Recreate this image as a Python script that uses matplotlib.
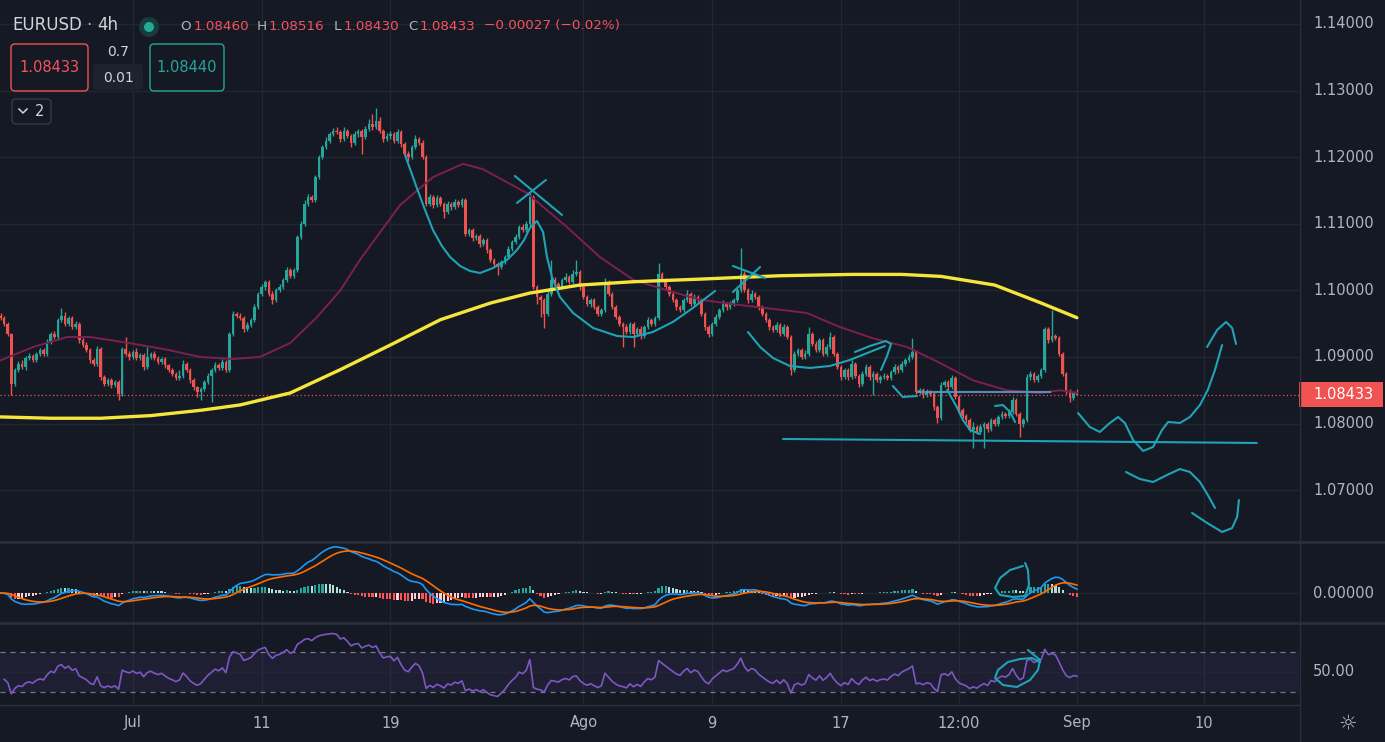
import numpy as np
import matplotlib
matplotlib.use("Agg")
import matplotlib.pyplot as plt
from matplotlib.patches import FancyBboxPatch, Rectangle, Circle
from matplotlib.transforms import blended_transform_factory as blend

BG = "#151924"
GRID = "#22262f"
SEP = "#2a2e39"
TXT = "#b2b5be"
UP = "#26a69a"
DOWN = "#ef5350"
DRAW = "#1fa3b6"

# EURUSD 4h closes (one per candle)
closes = [
    1.0958, 1.0950, 1.0935, 1.0860, 1.0880, 1.0890, 1.0885, 1.0898, 1.0902, 1.0895,
    1.0905, 1.0910, 1.0905, 1.0922, 1.0935, 1.0930, 1.0955, 1.0962, 1.0950, 1.0958,
    1.0945, 1.0950, 1.0925, 1.0918, 1.0910, 1.0895, 1.0890, 1.0912, 1.0870, 1.0860,
    1.0865, 1.0858, 1.0862, 1.0845, 1.0912, 1.0905, 1.0900, 1.0908, 1.0898, 1.0903,
    1.0885, 1.0900, 1.0905, 1.0898, 1.0893, 1.0897, 1.0888, 1.0880, 1.0875, 1.0868,
    1.0872, 1.0890, 1.0880, 1.0865, 1.0855, 1.0848, 1.0852, 1.0862, 1.0872, 1.0880,
    1.0888, 1.0884, 1.0892, 1.0880, 1.0935, 1.0965, 1.0962, 1.0958, 1.0942, 1.0948,
    1.0955, 1.0975, 1.0995, 1.1005, 1.1012, 1.0995, 1.0985, 1.1000, 1.1005, 1.1015,
    1.1030, 1.1022, 1.1030, 1.1080, 1.1100, 1.1130, 1.1140, 1.1135, 1.1170, 1.1200,
    1.1215, 1.1225, 1.1235, 1.1240, 1.1238, 1.1228, 1.1240, 1.1232, 1.1222, 1.1235,
    1.1240, 1.1230, 1.1242, 1.1250, 1.1245, 1.1255, 1.1240, 1.1228, 1.1232, 1.1235,
    1.1225, 1.1238, 1.1220, 1.1205, 1.1200, 1.1215, 1.1228, 1.1222, 1.1200, 1.1130,
    1.1140, 1.1128, 1.1138, 1.1130, 1.1118, 1.1130, 1.1125, 1.1133, 1.1128, 1.1135,
    1.1085, 1.1090, 1.1078, 1.1082, 1.1070, 1.1075, 1.1060, 1.1045, 1.1040, 1.1035,
    1.1042, 1.1050, 1.1062, 1.1072, 1.1080, 1.1095, 1.1090, 1.1100, 1.1140, 1.1005,
    1.0990, 1.0985, 1.0965, 1.0995, 1.1015, 1.1010, 1.1005, 1.1015, 1.1020, 1.1012,
    1.1025, 1.1028, 1.1005, 1.0990, 1.0980, 1.0985, 1.0975, 1.0965, 1.0970, 1.1012,
    1.0995, 1.0975, 1.0960, 1.0950, 1.0945, 1.0938, 1.0950, 1.0935, 1.0942, 1.0932,
    1.0945, 1.0955, 1.0950, 1.0958, 1.1025, 1.1015, 1.1005, 1.0995, 1.0985, 1.0975,
    1.0970, 1.0985, 1.0995, 1.0980, 1.0990, 1.0985, 1.0965, 1.0945, 1.0935, 1.0950,
    1.0960, 1.0970, 1.0980, 1.0975, 1.0980, 1.0985, 1.1000, 1.1025, 1.1000, 1.0985,
    1.0995, 1.0990, 1.0975, 1.0965, 1.0955, 1.0945, 1.0940, 1.0948, 1.0935, 1.0945,
    1.0930, 1.0880, 1.0905, 1.0910, 1.0900, 1.0905, 1.0935, 1.0920, 1.0910, 1.0925,
    1.0905, 1.0915, 1.0930, 1.0905, 1.0885, 1.0870, 1.0880, 1.0870, 1.0890, 1.0872,
    1.0860, 1.0875, 1.0885, 1.0870, 1.0875, 1.0865, 1.0870, 1.0872, 1.0868, 1.0878,
    1.0885, 1.0880, 1.0890, 1.0895, 1.0900, 1.0908, 1.0848, 1.0850, 1.0843, 1.0848,
    1.0845, 1.0825, 1.0808, 1.0858, 1.0862, 1.0855, 1.0868, 1.0840, 1.0820, 1.0812,
    1.0805, 1.0790, 1.0795, 1.0788, 1.0795, 1.0800, 1.0792, 1.0805, 1.0800, 1.0810,
    1.0815, 1.0812, 1.0818, 1.0835, 1.0815, 1.0800, 1.0805, 1.0870, 1.0875, 1.0865,
    1.0872, 1.0880, 1.0942, 1.0925, 1.0932, 1.0928, 1.0905, 1.0875, 1.0848, 1.0838,
    1.0846, 1.08433,
]
first_open = 1.0962

# wick length beyond the body, in pips
wick_up = [
    4, 3, 2, 1, 3, 4, 5, 3, 4, 3,   3, 4, 3, 5, 3, 4, 3, 12, 5, 3,
    3, 4, 2, 3, 4, 3, 3, 5, 3, 3,   4, 3, 3, 3, 3, 18, 4, 3, 5, 3,
    3, 15, 3, 4, 3, 3, 3, 2, 3, 3,  8, 6, 3, 3, 3, 2, 3, 3, 4, 3,
    4, 3, 5, 3, 3, 4, 3, 4, 3, 5,   3, 5, 3, 4, 3, 3, 4, 3, 4, 3,
    5, 3, 4, 3, 4, 5, 4, 3, 3, 4,   3, 5, 3, 4, 6, 3, 5, 3, 3, 4,
    3, 3, 5, 8, 15, 19, 6, 3, 4, 5, 3, 4, 3, 3, 4, 3, 5, 3, 4, 3,
    4, 3, 5, 3, 3, 4, 3, 4, 3, 3,   3, 4, 3, 3, 3, 4, 3, 3, 3, 3,
    3, 3, 4, 3, 4, 3, 4, 4, 6, 3,   3, 3, 3, 5, 31, 5, 3, 4, 6, 3,
    5, 18, 3, 3, 3, 4, 3, 3, 3, 7,  3, 3, 3, 3, 3, 4, 3, 3, 3, 4,
    3, 5, 3, 4, 16, 3, 4, 3, 3, 3,  3, 4, 5, 3, 4, 3, 3, 3, 3, 3,
    4, 3, 5, 3, 4, 3, 4, 38, 4, 3,  5, 3, 3, 3, 3, 3, 3, 5, 3, 4,
    3, 3, 4, 3, 3, 5, 10, 3, 4, 3,  3, 5, 8, 3, 3, 3, 4, 3, 6, 3,
    3, 4, 4, 3, 4, 3, 3, 4, 3, 3,   4, 3, 4, 3, 4, 21, 3, 4, 3, 4,
    3, 3, 3, 4, 3, 4, 5, 3, 3, 3,   3, 4, 8, 3, 4, 3, 3, 4, 3, 3,
    4, 3, 4, 5, 3, 3, 3, 5, 4, 3,   3, 4, 3, 3, 39, 3, 3, 3, 3, 4,
    3, 6,
]
wick_dn = [
    3, 3, 4, 17, 3, 3, 3, 4, 3, 3,  3, 3, 4, 3, 3, 3, 4, 3, 3, 4,
    3, 3, 4, 3, 3, 4, 3, 3, 5, 4,   3, 4, 3, 10, 3, 3, 4, 3, 3, 3,
    4, 3, 3, 3, 3, 3, 4, 3, 3, 3,   3, 3, 3, 4, 5, 8, 12, 3, 3, 39,
    3, 4, 3, 3, 3, 3, 4, 3, 5, 3,   3, 3, 3, 3, 4, 3, 6, 3, 3, 3,
    3, 4, 3, 3, 3, 3, 4, 3, 3, 3,   3, 3, 4, 3, 3, 5, 3, 3, 6, 3,
    4, 25, 3, 3, 4, 3, 3, 5, 3, 4,  3, 3, 4, 3, 6, 3, 3, 4, 3, 4,
    3, 4, 3, 3, 10, 3, 4, 3, 3, 3,  4, 3, 4, 3, 5, 3, 4, 3, 4, 12,
    3, 3, 3, 3, 3, 3, 3, 3, 3, 3,   10, 25, 21, 3, 3, 3, 4, 3, 3, 3,
    3, 3, 4, 3, 3, 5, 3, 4, 3, 3,   3, 3, 3, 3, 30, 3, 4, 20, 3, 5,
    3, 3, 3, 3, 3, 3, 3, 4, 3, 5,   3, 3, 3, 4, 3, 3, 3, 4, 5, 3,
    3, 3, 3, 4, 3, 3, 3, 3, 3, 4,   3, 3, 4, 3, 3, 4, 3, 3, 4, 3,
    3, 7, 3, 4, 3, 3, 3, 4, 3, 3,   4, 3, 3, 3, 3, 5, 3, 4, 3, 3,
    5, 3, 3, 4, 27, 3, 4, 3, 3, 3,  3, 4, 3, 3, 3, 3, 4, 3, 5, 3,
    3, 4, 7, 3, 3, 4, 3, 3, 4, 3,   4, 3, 26, 3, 3, 32, 4, 3, 3, 3,
    3, 4, 3, 3, 4, 20, 5, 3, 4, 3,  3, 3, 3, 4, 3, 3, 3, 4, 3, 5,
    3, 0,
]

# moving averages read at a few candles
slow_ma_bar = [0, 14, 28, 42, 56, 67, 81, 95, 109, 123, 137, 148, 162, 177, 196, 218, 238, 252,
               263, 278, 291, 301]
slow_ma = [1.0810, 1.0808, 1.0808, 1.0812, 1.0820, 1.0828, 1.0846, 1.0881, 1.0918, 1.0956, 1.0981,
           1.0996, 1.1008, 1.1013, 1.1017, 1.1022, 1.1024, 1.1024, 1.1021, 1.1008, 1.0981, 1.0959]
fast_ma_bar = [0, 9.1, 18.6, 25, 37, 46.5, 55.8, 65, 72.5, 81, 88.5, 95, 100.5, 111.7, 120.9, 129.3,
               134.9, 147.2, 158.4, 167.6, 176.9, 186.4, 195.6, 206.8, 218, 225.5, 234.7, 244, 253.5,
               262.7, 271.9, 281.4, 290.7, 296.3, 301]
fast_ma = [1.0895, 1.0915, 1.0930, 1.0930, 1.0920, 1.0911, 1.0900, 1.0897, 1.0900, 1.0921, 1.0960,
           1.1000, 1.1046, 1.1128, 1.1170, 1.1190, 1.1182, 1.1146, 1.1095, 1.1050, 1.1016, 1.1000,
           1.0986, 1.0978, 1.0971, 1.0966, 1.0945, 1.0928, 1.0915, 1.0891, 1.0865, 1.0850, 1.0846,
           1.0850, 1.0846]

date_labels = ["Jul", "11", "19", "Ago", "9", "17", "12:00", "Sep", "10"]
date_bars = [37, 73, 109, 163, 199, 235, 268, 301, 336.5]
price_levels = [1.07, 1.08, 1.09, 1.10, 1.11, 1.12, 1.13, 1.14]
last_price = 1.08433

# hand drawn annotations (bar index, price)
swing_bar = [113.1, 114.8, 116.4, 118.7, 120.9, 123.4, 125.7, 128.5, 131.3, 134.1, 137.7, 141.6, 144.4,
             146.4, 148.0, 150.0, 151.7, 152.8, 154.2, 156.4, 160.1, 165.7, 172.4, 176.9, 182.4, 188.0,
             193.6, 199.8]
swing_px = [1.12033, 1.11778, 1.11538, 1.11207, 1.10907, 1.10667, 1.10501, 1.10366, 1.10291, 1.10261,
            1.10336, 1.10456, 1.10607, 1.10757, 1.10937, 1.11042, 1.10877, 1.10501, 1.10201, 1.09901,
            1.09661, 1.09435, 1.09315, 1.09300, 1.09375, 1.09526, 1.09736, 1.09991]
cross_strokes = [
    ([143.8, 157.0], [1.11718, 1.11132]),
    ([144.4, 152.5], [1.11312, 1.11658]),
    ([204.8, 213.8], [1.10366, 1.10186]),
    ([204.8, 212.4], [1.09976, 1.10351]),
]
u_bar = [209.0, 212.4, 216.0, 220.7, 226.3, 231.9, 237.5, 243.1, 247.3]
u_px = [1.09375, 1.09150, 1.08985, 1.08865, 1.08835, 1.08865, 1.08955, 1.09075, 1.09165]
swoosh_bar = [238.9, 243.1, 247.6, 249.0, 247.9, 246.2]
swoosh_px = [1.09075, 1.09165, 1.09240, 1.09195, 1.09015, 1.08805]
hook_bar = [249.5, 252.3, 256.3]
hook_px = [1.08565, 1.08399, 1.08414]
neck_bar = [256.6, 293.5]
neck_px = [1.08474, 1.08474]
drop_bar = [264.7, 267.4, 269.1, 271.1, 273.9]
drop_px = [1.08505, 1.08249, 1.08054, 1.07904, 1.07844]
arc_bar = [278.1, 280.3, 282.3, 283.7]
arc_px = [1.08264, 1.08279, 1.08174, 1.08024]
support_bar = [218.8, 351.3]
support_px = [1.07769, 1.07709]
fut_a_bar = [301.3, 304.6, 307.4, 310.2, 312.5, 314.4, 316.7, 319.5, 322.3, 324.8, 326.5, 329.8, 332.6,
             335.4, 337.6, 339.6, 341.6]
fut_a_px = [1.08159, 1.07949, 1.07874, 1.08009, 1.08099, 1.08009, 1.07754, 1.07589, 1.07649, 1.07904,
            1.08024, 1.08009, 1.08099, 1.08279, 1.08505, 1.08805, 1.09180]
fut_b_bar = [337.4, 340.2, 342.7, 344.4, 345.5]
fut_b_px = [1.09150, 1.09405, 1.09526, 1.09436, 1.09195]
fut_c_bar = [314.7, 318.6, 322.3, 326.2, 329.8, 332.6, 335.4, 337.6, 339.6]
fut_c_px = [1.07273, 1.07168, 1.07123, 1.07228, 1.07318, 1.07273, 1.07123, 1.06928, 1.06733]
fut_d_bar = [333.2, 337.4, 341.6, 344.4, 345.8, 346.3]
fut_d_px = [1.06658, 1.06508, 1.06372, 1.06432, 1.06598, 1.06853]
macd_loop_bar = [285.9, 282.3, 279.5, 278.1, 279.5, 283.1, 286.5, 287.6, 287.3, 286.5]
macd_loop = [0.00432, 0.00368, 0.0024, 0.0008, -0.00032, -0.00064, -0.00048, 0.00128, 0.00368, 0.0048]
rsi_loop_bar = [287.3, 290.7, 290.1, 287.9, 284.2, 280.3, 278.1, 278.9, 281.7, 285.1, 288.4, 290.7]
rsi_loop = [72, 62, 52, 42, 35, 37, 44, 52, 60, 63, 64, 60]

# ---- derived series ----
c = np.array(closes)
o = np.r_[first_open, c[:-1]]
hi = np.maximum(o, c) + np.array(wick_up) * 1e-4
lo = np.minimum(o, c) - np.array(wick_dn) * 1e-4
x = np.arange(len(c))
cols = np.where(c >= o, UP, DOWN)


def ema(v, n):
    a = 2.0 / (n + 1)
    out = np.empty(len(v))
    out[0] = v[0]
    for i in range(1, len(v)):
        out[i] = a * v[i] + (1 - a) * out[i - 1]
    return out


macd = ema(c, 12) - ema(c, 26)
signal = ema(macd, 9)
hist = macd - signal
hcols = []
for i, h in enumerate(hist):
    prev = hist[i - 1] if i else h
    if h >= 0:
        hcols.append("#26a69a" if h >= prev else "#b2dfdb")
    else:
        hcols.append("#ffcdd2" if h >= prev else "#ff5252")

d = np.diff(c)
g = np.clip(d, 0, None)
l = np.clip(-d, 0, None)
ag, al = g[:14].mean(), l[:14].mean()
rsi = []
for gi, li in zip(g, l):
    ag = (ag * 13 + gi) / 14
    al = (al * 13 + li) / 14
    rsi.append(100 - 100 / (1 + ag / al) if al > 0 else 100)

# ---- figure ----
W, H = 1385, 742
fig = plt.figure(figsize=(W / 100, H / 100), dpi=100, facecolor=BG)


def rect(x0, y0, x1, y1):
    return [x0 / W, 1 - y1 / H, (x1 - x0) / W, (y1 - y0) / H]


ax_p = fig.add_axes(rect(0, 0, 1299, 541))
ax_m = fig.add_axes(rect(0, 543, 1299, 622))
ax_r = fig.add_axes(rect(0, 624, 1299, 704))
for a in (ax_p, ax_m, ax_r):
    a.set_facecolor(BG)
    a.set_xlim(-0.17, 363.1)
    a.set_xticks([])
    a.set_yticks([])
    for s in a.spines.values():
        s.set_visible(False)
    for b in date_bars:
        a.axvline(b, color=GRID, lw=1, zorder=0)

# price panel
ax_p.set_ylim(1.06237, 1.14360)
for lv in price_levels:
    ax_p.axhline(lv, color=GRID, lw=1, zorder=0)
ax_p.vlines(x, lo, hi, colors=cols, lw=1.0, zorder=3)
ax_p.bar(x, np.maximum(np.abs(c - o), 0.00004), bottom=np.minimum(o, c), width=0.72,
         color=cols, lw=0, zorder=4)
ax_p.plot(fast_ma_bar, fast_ma, color="#7d1f4f", lw=1.4, zorder=5)
ax_p.plot(slow_ma_bar, slow_ma, color="#f6e53b", lw=2.4, zorder=5, solid_capstyle="round",
          solid_joinstyle="round")
ax_p.axhline(last_price, color=DOWN, lw=0.9, ls=(0, (1, 2)), zorder=2)

kw = dict(color=DRAW, lw=1.5, zorder=6, solid_capstyle="round", solid_joinstyle="round")
ax_p.plot(swing_bar, swing_px, **kw)
for bx, py in cross_strokes:
    ax_p.plot(bx, py, **kw)
ax_p.plot(u_bar, u_px, **kw)
ax_p.plot(swoosh_bar, swoosh_px, **kw)
ax_p.plot(hook_bar, hook_px, **kw)
ax_p.plot(neck_bar, neck_px, color="#5b97c2", lw=1.6, zorder=6, alpha=0.9)
ax_p.plot(drop_bar, drop_px, **kw)
ax_p.plot(arc_bar, arc_px, **kw)
ax_p.plot(support_bar, support_px, **kw)
ax_p.plot(fut_a_bar, fut_a_px, **kw)
ax_p.plot(fut_b_bar, fut_b_px, **kw)
ax_p.plot(fut_c_bar, fut_c_px, **kw)
ax_p.plot(fut_d_bar, fut_d_px, **kw)

tr_p = blend(ax_p.transAxes, ax_p.transData)
lab_x = 1313 / 1299
for lv in price_levels:
    ax_p.text(lab_x, lv, f"{lv:.5f}", transform=tr_p, ha="left", va="center",
              color=TXT, fontsize=10.5, clip_on=False)
ax_p.add_patch(Rectangle((1.0, last_price - 0.00188), 84 / 1299, 0.00376, transform=tr_p,
                         fc="#f05350", ec="none", clip_on=False, zorder=8))
ax_p.text(lab_x, last_price, f"{last_price:.5f}", transform=tr_p, ha="left", va="center",
          color="white", fontsize=10.5, clip_on=False, zorder=9)

# MACD panel
ax_m.set_ylim(-0.00464, 0.0080)
ax_m.axhline(0, color=GRID, lw=1, zorder=0)
ax_m.bar(x, hist, width=0.6, color=hcols, lw=0, zorder=2)
ax_m.plot(x, macd, color="#2196f3", lw=1.2, zorder=3)
ax_m.plot(x, signal, color="#ff6d00", lw=1.2, zorder=3)
ax_m.plot(macd_loop_bar, macd_loop, **kw)
ax_m.text(lab_x, 0, "0.00000", transform=blend(ax_m.transAxes, ax_m.transData), ha="left",
          va="center", color=TXT, fontsize=10.5, clip_on=False)

# RSI panel
ax_r.set_ylim(18, 98)
ax_r.axhspan(30, 70, color="#7e57c2", alpha=0.1, lw=0, zorder=0)
ax_r.axhline(50, color=GRID, lw=1, zorder=0)
for lv in (30, 70):
    ax_r.axhline(lv, color="#787b86", lw=0.9, ls=(0, (4, 4)), zorder=1)
ax_r.plot(x[1:], rsi, color="#7e57c2", lw=1.2, zorder=3)
ax_r.plot(rsi_loop_bar, rsi_loop, **kw)
ax_r.text(lab_x, 50, "50.00", transform=blend(ax_r.transAxes, ax_r.transData), ha="left",
          va="center", color=TXT, fontsize=10.5, clip_on=False)

tr_d = blend(ax_r.transData, fig.transFigure)
for b, lab in zip(date_bars, date_labels):
    ax_r.text(b, 1 - 723 / H, lab, transform=tr_d, ha="center", va="center", color=TXT,
              fontsize=10.5, clip_on=False)

# overlay: separators and header
ov = fig.add_axes([0, 0, 1, 1], zorder=10)
ov.set_xlim(0, W)
ov.set_ylim(H, 0)
ov.axis("off")
ov.plot([0, W], [542, 542], color=SEP, lw=2)
ov.plot([0, W], [623, 623], color=SEP, lw=2)
ov.plot([0, 1299], [704.5, 704.5], color=SEP, lw=1)
ov.plot([1299.5, 1299.5], [0, H], color=SEP, lw=1)
ov.text(1348, 723, "\u263c", color=TXT, fontsize=15, ha="center", va="center")

ov.text(12, 25, "EURUSD", color="#d1d4dc", fontsize=12, va="center")
ov.text(86, 25, "\u00b7", color=TXT, fontsize=12, va="center")
ov.text(97, 25, "4h", color="#d1d4dc", fontsize=12, va="center")
ov.add_patch(Circle((149, 27), 10, fc="#1b3a3c", ec="none"))
ov.add_patch(Circle((149, 27), 5, fc="#22ab94", ec="none"))
ohlc = [("O", 180, TXT), ("1.08460", 194, "#f7525f"), ("H", 257, TXT), ("1.08516", 269, "#f7525f"),
        ("L", 334, TXT), ("1.08430", 344, "#f7525f"), ("C", 408, TXT), ("1.08433", 420, "#f7525f"),
        ("\u22120.00027 (\u22120.02%)", 484, "#f7525f")]
for s, px, col in ohlc:
    ov.text(px, 26, s, color=col, fontsize=9.7, va="center", ha="left")

ov.add_patch(FancyBboxPatch((11, 44), 77, 47, boxstyle="round,pad=0,rounding_size=4",
                            fc=BG, ec="#f05350", lw=1))
ov.text(49.5, 68, "1.08433", color="#f7525f", fontsize=10.5, ha="center", va="center")
ov.text(118, 52, "0.7", color="#d1d4dc", fontsize=10, ha="center", va="center")
ov.add_patch(FancyBboxPatch((93, 64), 50, 26, boxstyle="round,pad=0,rounding_size=3",
                            fc="#1e222d", ec="none"))
ov.text(118, 78, "0.01", color="#d1d4dc", fontsize=10, ha="center", va="center")
ov.add_patch(FancyBboxPatch((150, 44), 74, 47, boxstyle="round,pad=0,rounding_size=4",
                            fc=BG, ec=UP, lw=1))
ov.text(187, 68, "1.08440", color=UP, fontsize=10.5, ha="center", va="center")
ov.add_patch(FancyBboxPatch((12, 99), 39, 25, boxstyle="round,pad=0,rounding_size=4",
                            fc=BG, ec="#363a45", lw=1))
ov.plot([19, 23, 27], [109, 113, 109], color="#d1d4dc", lw=1.1)
ov.text(40, 111.5, "2", color="#d1d4dc", fontsize=10.5, ha="center", va="center")

fig.savefig("out.png", dpi=100, facecolor=BG)
